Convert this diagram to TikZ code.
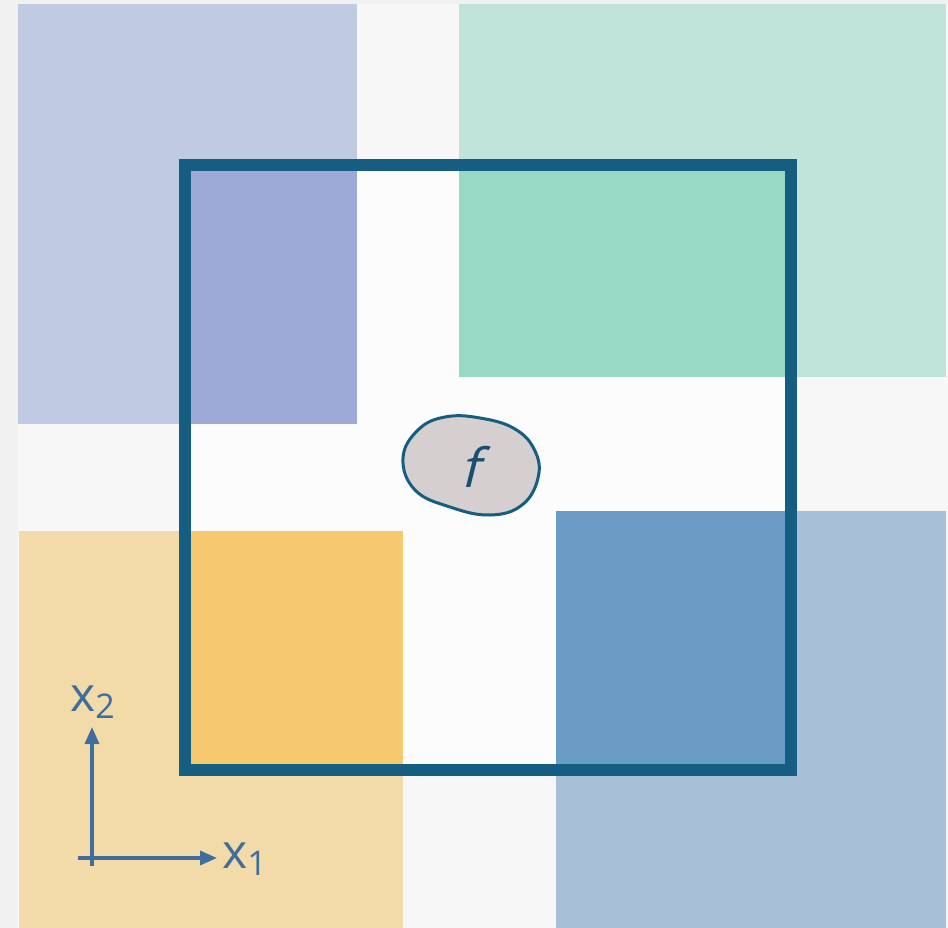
\documentclass[tikz,border=0pt]{standalone}
\usepackage{fontspec}
\setmainfont{Open Sans}
\usetikzlibrary{arrows.meta}
\definecolor{outerbg}{HTML}{F0F1F0}
\definecolor{innerbg}{HTML}{F6F7F6}
\definecolor{purpleA}{HTML}{C0CAE3}
\definecolor{purpleB}{HTML}{9DAAD8}
\definecolor{greenA}{HTML}{C0E3DA}
\definecolor{greenB}{HTML}{98D9C6}
\definecolor{yellowA}{HTML}{F2DBA9}
\definecolor{yellowB}{HTML}{F6C96E}
\definecolor{blueA}{HTML}{A7C0D7}
\definecolor{blueB}{HTML}{6B9CC6}
\definecolor{framecol}{HTML}{155E82}
\definecolor{blobfill}{HTML}{D5D0CF}
\definecolor{axiscol}{HTML}{3F6D9C}
\definecolor{fcol}{HTML}{1A4E6E}
\tikzset{
  axisarrow/.style={draw=axiscol, line width=3.4pt, -{Triangle[length=17pt,width=14pt]}},
  axislabel/.style={text=axiscol, font=\fontsize{48}{52}\selectfont, inner sep=0pt},
}
\begin{document}
\begin{tikzpicture}[x=1pt,y=-1pt]
\useasboundingbox (0,0) rectangle (948,928);
\fill[outerbg] (0,0) rectangle (948,928);
\fill[innerbg] (18,4) rectangle (948,928);
% quadrant rectangles
\fill[purpleA] (18,4) rectangle (357,424);
\fill[greenA] (459,4) rectangle (946,377);
\fill[yellowA] (19,531) rectangle (403,928);
\fill[blueA] (556,511) rectangle (946,928);
% inside frame
\fill[white!60!innerbg] (185,165) rectangle (791,770);
\fill[purpleB] (185,165) rectangle (357,424);
\fill[greenB] (459,165) rectangle (791,377);
\fill[yellowB] (185,531) rectangle (403,770);
\fill[blueB] (556,511) rectangle (791,770);
% frame
\node[draw=framecol, line width=12pt, minimum width=606pt, minimum height=605pt, inner sep=0pt] (frame) at (488,467.5) {};
% blob
\draw[draw=framecol, fill=blobfill, line width=3pt]
  plot[smooth cycle, tension=0.7] coordinates {(403,458) (418,430) (445,417) (480,418) (515,429) (535,451) (538,478) (522,505) (490,515) (450,507) (415,490)};
\node[text=fcol, font=\fontsize{54}{58}\selectfont\addfontfeature{FakeSlant=0.25}, inner sep=0pt, anchor=base] (f) at (470,487) {f};
% axes
\coordinate (ybot) at (92,866);
\coordinate (ytop) at (92,727);
\coordinate (xl) at (78,858);
\coordinate (xr) at (217,858);
\draw[axisarrow] (ybot) -- (ytop);
\draw[axisarrow] (xl) -- (xr);
\node[axislabel, anchor=base west] (x1) at (222,868) {x\raisebox{-0.3ex}{\fontsize{34}{36}\selectfont 1}};
\node[axislabel, anchor=base west] (x2) at (70,711) {x\raisebox{-0.3ex}{\fontsize{34}{36}\selectfont 2}};
\end{tikzpicture}
\end{document}
